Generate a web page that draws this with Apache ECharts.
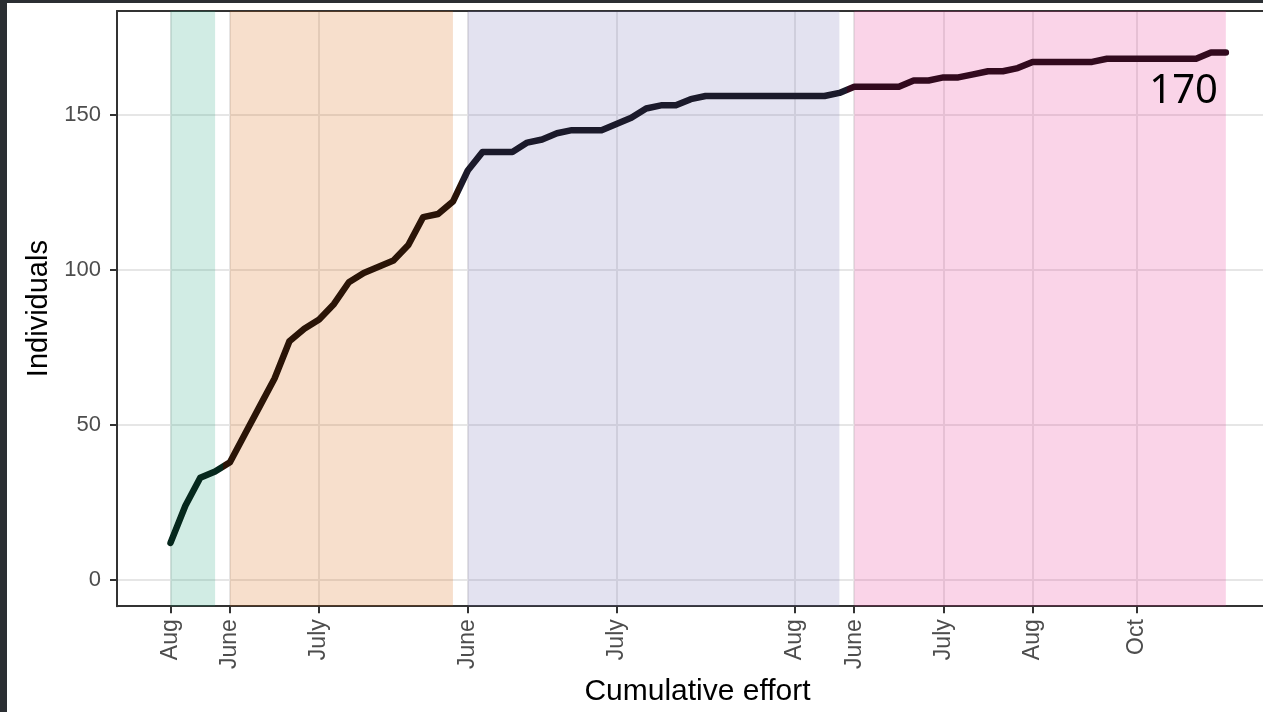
<!DOCTYPE html>
<html>
<head>
<meta charset="utf-8">
<script src="https://cdn.jsdelivr.net/npm/echarts@6/dist/echarts.min.js"></script>
<style>
html,body{margin:0;padding:0;background:#ffffff;}
#chart{width:1263px;height:712px;}
</style>
</head>
<body>
<div id="chart"></div>
<script>
// Cumulative number of individuals per sampling occasion (effort index 0..71)
const individuals = [12,24,33,35,38,47,56,65,77,81,84,89,96,99,101,103,108,117,118,122,
  132,138,138,138,141,142,144,145,145,145,147,149,152,153,153,155,156,156,156,156,156,156,156,156,156,157,
  159,159,159,159,161,161,162,162,163,164,164,165,167,167,167,167,167,168,168,168,168,168,168,168,170,170];

// Season bands (effort index start/end)
const bandStart = [0, 4, 20, 46];
const bandEnd   = [3, 19, 45, 71];
const bandFill  = ['rgba(27,158,119,0.2)','rgba(217,95,2,0.2)','rgba(117,112,179,0.2)','rgba(231,41,138,0.2)'];
const lineColors = ['#06281d','#2a1407','#1b1a2b','#320a1e'];

// X tick positions and labels
const xTickPos = [0, 4, 10, 20, 30, 42, 46, 52, 58, 65];
const xTickLabels = ['Aug','June','July','June','July','Aug','June','July','Aug','Oct'];
const yTicks = [0, 50, 100, 150];
const finalLabel = '170';

const chart = echarts.init(document.getElementById('chart'), null, {renderer:'canvas'});
const data = individuals.map((v, i) => [i, v]);

const pieces = bandStart.map((s, k) => {
  const p = {color: lineColors[k]};
  if (k > 0) p.gt = (bandEnd[k-1] + s) / 2;
  if (k < bandStart.length - 1) p.lte = (bandEnd[k] + bandStart[k+1]) / 2;
  return p;
});

const option = {
  animation: false,
  backgroundColor: '#ffffff',
  grid: {left:117, top:11, right:0, bottom:104, containLabel:false},
  xAxis: [{
    type: 'value', min: -3.6, max: 73.5,
    axisLine: {show:true, onZero:false, lineStyle:{color:'#333333', width:2}},
    axisTick: {show:true, length:7, lineStyle:{color:'#333333', width:2}, customValues: xTickPos},
    axisLabel: {rotate:90, margin:13, customValues: xTickPos,
      fontFamily:'Liberation Sans', fontSize:23, color:'#4d4d4d',
      formatter: v => { const k = xTickPos.indexOf(v); return k >= 0 ? xTickLabels[k] : ''; }},
    splitLine: {show:true, lineStyle:{color:'#e6e6e6', width:2}},
    name: 'Cumulative effort', nameLocation:'middle', nameGap:70,
    nameTextStyle: {fontFamily:'Liberation Sans', fontSize:30, color:'#000000', padding:[0,0,0,15]}
  }, {
    type: 'value', position:'top', min: -3.6, max: 73.5,
    axisLine: {show:true, onZero:false, lineStyle:{color:'#333333', width:2}},
    axisTick: {show:false}, axisLabel: {show:false}, splitLine: {show:false}
  }],
  yAxis: {
    type: 'value', min: -8.4, max: 183.4,
    axisLine: {show:true, onZero:false, lineStyle:{color:'#333333', width:2}},
    axisTick: {show:true, length:7, lineStyle:{color:'#333333', width:2}, customValues: yTicks},
    axisLabel: {margin:16, customValues: yTicks, fontFamily:'Liberation Sans', fontSize:22, color:'#4d4d4d'},
    splitLine: {show:true, lineStyle:{color:'#e6e6e6', width:2}},
    name: 'Individuals', nameLocation:'middle', nameGap:63,
    nameTextStyle: {fontFamily:'Liberation Sans', fontSize:29, color:'#000000'}
  },
  visualMap: {show:false, type:'piecewise', dimension:0, seriesIndex:0, pieces: pieces},
  series: [{
    type: 'line', data: data, symbol: 'none', smooth: false,
    lineStyle: {width:6.5, join:'round', cap:'round'},
    z: 5,
    markArea: {
      silent: true,
      data: bandStart.map((s, k) => [
        {xAxis: s, itemStyle:{color: bandFill[k]}},
        {xAxis: bandEnd[k]}
      ])
    }
  }],
  graphic: [
    {type:'rect', left:0, top:0, shape:{width:7, height:712}, style:{fill:'#2b2f33'}, z:100},
    {type:'rect', left:0, top:0, shape:{width:1263, height:3}, style:{fill:'#2b2f33'}, z:100},
    {type:'text', x:1218, y:92, z:100,
      style:{text: finalLabel, font:'40px "Noto Sans"', fill:'#000000', textAlign:'right', textVerticalAlign:'middle'}}
  ]
};
chart.setOption(option);
</script>
</body>
</html>
